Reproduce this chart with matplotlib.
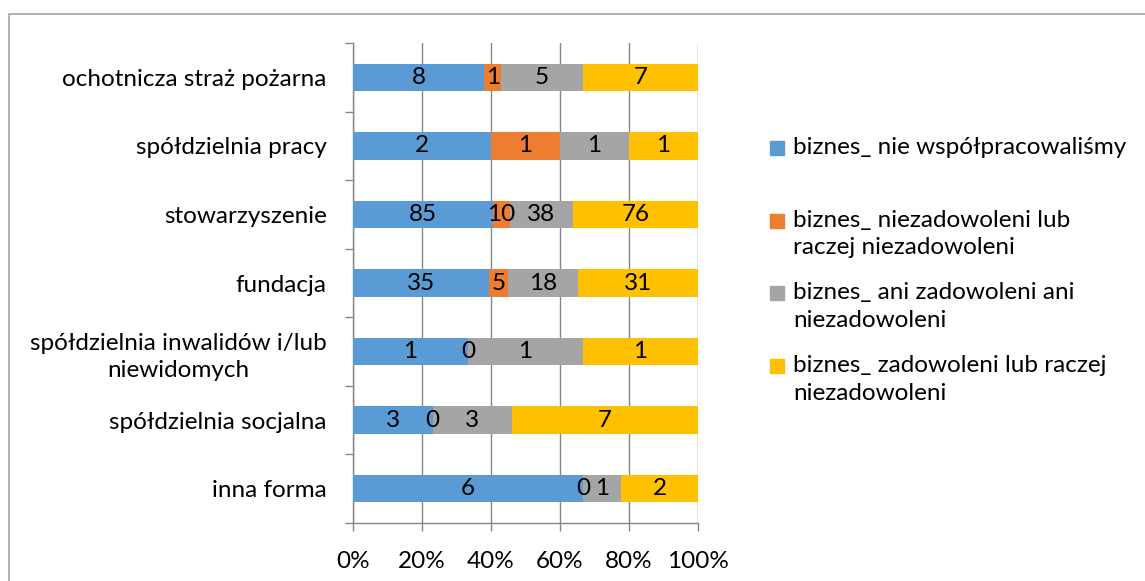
import numpy as np
import matplotlib
matplotlib.use("Agg")
import matplotlib.pyplot as plt
from matplotlib.patches import Rectangle

plt.rcParams["font.family"] = ["Lato", "DejaVu Sans"]

# categories, top to bottom as in the chart
categories = [
    "ochotnicza straż pożarna",
    "spółdzielnia pracy",
    "stowarzyszenie",
    "fundacja",
    "spółdzielnia inwalidów i/lub\nniewidomych",
    "spółdzielnia socjalna",
    "inna forma",
]

series_names = [
    "biznes_ nie współpracowaliśmy",
    "biznes_ niezadowoleni lub\nraczej niezadowoleni",
    "biznes_ ani zadowoleni ani\nniezadowoleni",
    "biznes_ zadowoleni lub raczej\nniezadowoleni",
]

nie_wspolpracowalismy = [8, 2, 85, 35, 1, 3, 6]
niezadowoleni = [1, 1, 10, 5, 0, 0, 0]
ani_ani = [5, 1, 38, 18, 1, 3, 1]
zadowoleni = [7, 1, 76, 31, 1, 7, 2]

xticks = [0, 20, 40, 60, 80, 100]
xtick_labels = ["0%", "20%", "40%", "60%", "80%", "100%"]

colors = ["#5B9BD5", "#ED7D31", "#A5A5A5", "#FFC000"]

data = np.array([nie_wspolpracowalismy, niezadowoleni, ani_ani, zadowoleni], dtype=float)
totals = data.sum(axis=0)
pct = data / totals * 100

fig = plt.figure(figsize=(11.45, 5.81), dpi=100)
ax = fig.add_axes([353 / 1145, 1 - 523 / 581, 345 / 1145, 480 / 581])

y = np.arange(len(categories))[::-1]
left = np.zeros(len(categories))
FS = 17.5

for i in range(len(series_names)):
    ax.barh(y, pct[i], left=left, height=0.4, color=colors[i], zorder=3)
    # data labels, zero values sit at the segment start
    for j in range(len(categories)):
        ax.text(left[j] + pct[i][j] / 2, y[j], f"{int(data[i][j])}",
                ha="center", va="center", fontsize=FS, color="black", zorder=4)
    left = left + pct[i]

ax.set_xlim(0, 100)
ax.set_ylim(-0.5, len(categories) - 0.5)
ax.set_xticks(xticks)
ax.set_xticklabels(xtick_labels, fontsize=FS)
ax.set_yticks(y)
ax.set_yticklabels(categories, fontsize=FS, linespacing=1.35)
for lab in ax.get_yticklabels():
    lab.set_multialignment("center")

# tick marks between categories like excel
ax.set_yticks(np.arange(-0.5, len(categories), 1.0), minor=True)
ax.tick_params(axis="y", which="major", length=0, pad=19)
ax.tick_params(axis="y", which="minor", length=5.5, width=1, color="#868686", direction="out")
ax.tick_params(axis="x", length=5.5, width=1, color="#868686", pad=15)

ax.grid(axis="x", color="#868686", linewidth=1, zorder=0)
for s in ["top", "right"]:
    ax.spines[s].set_visible(False)
for s in ["left", "bottom"]:
    ax.spines[s].set_color("#868686")
    ax.spines[s].set_linewidth(1)

# legend drawn by hand so first lines are evenly spaced
for i, name in enumerate(series_names):
    yc = 148 + 72.7 * i
    fig.patches.append(Rectangle((770 / 1145, 1 - (yc + 7) / 581), 14 / 1145, 14 / 581,
                                 transform=fig.transFigure, color=colors[i]))
    fig.text(793 / 1145, 1 - (yc - 11) / 581, name, ha="left", va="top",
             fontsize=FS, linespacing=1.38)

# outer chart frame (extends past the image edge)
fig.patches.append(Rectangle((8.5 / 1145, -0.05), 1.1, 1 - 13.5 / 581 + 0.05,
                             transform=fig.transFigure, fill=False,
                             edgecolor="#A6A6A6", linewidth=1.2, clip_on=False))

fig.savefig("out.png", dpi=100)
